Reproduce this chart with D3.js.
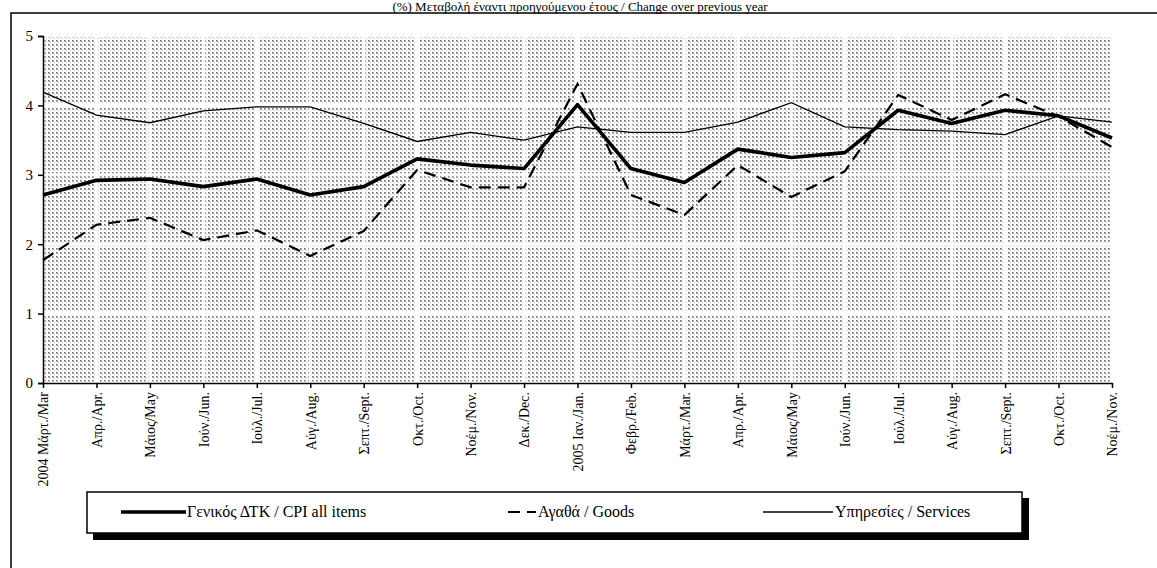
<!DOCTYPE html>
<html><head><meta charset="utf-8">
<script src="https://cdn.jsdelivr.net/npm/d3@7"></script>
<style>html,body{margin:0;padding:0;background:#fff;overflow:hidden}</style>
</head><body>
<svg id="c" width="1157" height="568"></svg>
<script>
const categories = ["2004 Μάρτ./Mar","Απρ./Apr.","Μάιος/May","Ιούν./Jun.","Ιούλ./Jul.","Αύγ./Aug.","Σεπτ./Sept.","Οκτ./Oct.","Νοέμ./Nov.","Δεκ./Dec.","2005 Ιαν./Jan.","Φεβρ./Feb.","Μάρτ./Mar.","Απρ./Apr.","Μάιος/May","Ιούν./Jun.","Ιούλ./Jul.","Αύγ./Aug.","Σεπτ./Sept.","Οκτ./Oct.","Νοέμ./Nov."];
const cpi      = [2.71,2.92,2.94,2.83,2.94,2.71,2.83,3.23,3.14,3.09,4.01,3.09,2.89,3.37,3.25,3.32,3.93,3.74,3.93,3.85,3.53];
const goods    = [1.77,2.28,2.38,2.06,2.20,1.83,2.19,3.07,2.82,2.82,4.31,2.71,2.42,3.14,2.68,3.05,4.15,3.79,4.16,3.84,3.40];
const services = [4.19,3.86,3.75,3.92,3.98,3.98,3.74,3.48,3.61,3.50,3.69,3.61,3.61,3.76,4.04,3.69,3.65,3.63,3.58,3.85,3.76];
const yTicks = [0,1,2,3,4,5];
const title = "(%) Μεταβολή έναντι προηγούμενου έτους / Change over previous year";
const legendLabels = ["Γενικός ΔΤΚ / CPI all items","Αγαθά / Goods","Υπηρεσίες / Services"];

const svg = d3.select("#c");
const font = "Liberation Serif, DejaVu Serif, serif";
const L = 43, R = 1112, T = 36, B = 383;

const defs = svg.append("defs");
const pat = defs.append("pattern").attr("id","dots").attr("width",4).attr("height",4).attr("patternUnits","userSpaceOnUse");
pat.append("rect").attr("width",4).attr("height",4).attr("fill","#fff");
pat.append("rect").attr("x",0).attr("y",0).attr("width",2).attr("height",2).attr("fill","#a8a8a8");
pat.append("rect").attr("x",2).attr("y",2).attr("width",1).attr("height",1).attr("fill","#c8c8c8");
pat.append("rect").attr("x",0).attr("y",0).attr("width",1).attr("height",1).attr("fill","#707070");

svg.append("rect").attr("x",11).attr("y",13).attr("width",1200).attr("height",700)
  .attr("fill","none").attr("stroke","#000").attr("stroke-width",1.5);

svg.append("text").attr("x",580).attr("y",11).attr("text-anchor","middle")
  .attr("font-family",font).attr("font-size",13).text(title);

const x = d3.scalePoint().domain(d3.range(categories.length)).range([L,R]);
const y = d3.scaleLinear().domain([0,5]).range([B,T]);

svg.append("rect").attr("x",L).attr("y",T).attr("width",R-L).attr("height",B-T).attr("fill","url(#dots)");
svg.append("g").selectAll("line").data(yTicks).join("line")
  .attr("x1",L).attr("x2",R).attr("y1",d=>y(d)).attr("y2",d=>y(d))
  .attr("stroke","#fff").attr("stroke-width",3);
svg.append("g").selectAll("line").data(d3.range(categories.length)).join("line")
  .attr("x1",d=>x(d)).attr("x2",d=>x(d)).attr("y1",T).attr("y2",B)
  .attr("stroke","#fff").attr("stroke-width",3);

const yAxis = svg.append("g").attr("transform",`translate(${L},0)`)
  .call(d3.axisLeft(y).tickValues(yTicks).tickFormat(d3.format("d")).tickSize(5).tickPadding(5));
yAxis.attr("font-family",font).attr("font-size",15);
yAxis.select(".domain").attr("stroke","#000").attr("stroke-width",1.5);
yAxis.selectAll(".tick line").attr("stroke","#000").attr("stroke-width",1.5);
yAxis.selectAll("text").attr("fill","#000");

const xAxis = svg.append("g").attr("transform",`translate(0,${B})`)
  .call(d3.axisBottom(x).tickFormat(i=>categories[i]).tickSize(5).tickSizeOuter(0));
xAxis.attr("font-family",font).attr("font-size",14);
xAxis.select(".domain").attr("stroke","#000").attr("stroke-width",1.5);
xAxis.selectAll(".tick line").attr("stroke","#000").attr("stroke-width",1.5);
xAxis.selectAll("text").attr("fill","#000")
  .attr("transform","rotate(-90)").attr("text-anchor","end").attr("x",-9).attr("y",0).attr("dy","0.35em");

const line = d3.line().x((d,i)=>x(i)).y(d=>y(d));
svg.append("path").datum(services).attr("d",line).attr("fill","none").attr("stroke","#000").attr("stroke-width",1.3);
svg.append("path").datum(goods).attr("d",line).attr("fill","none").attr("stroke","#000").attr("stroke-width",2.2).attr("stroke-dasharray","12,7");
svg.append("path").datum(cpi).attr("d",line).attr("fill","none").attr("stroke","#000").attr("stroke-width",3.6).attr("stroke-linejoin","round");

const lg = svg.append("g").attr("font-family",font).attr("font-size",16);
lg.append("rect").attr("x",93).attr("y",498).attr("width",936).attr("height",42).attr("fill","#000");
lg.append("rect").attr("x",87).attr("y",492).attr("width",935).attr("height",41).attr("fill","#fff").attr("stroke","#000").attr("stroke-width",1.5);
const items = [
  {x1:121,x2:186,w:3.6,dash:null,tx:187},
  {x1:508,x2:536,w:2.2,dash:"12,7",tx:538},
  {x1:763,x2:833,w:1.3,dash:null,tx:835}
];
items.forEach((it,i)=>{
  const ln = lg.append("line").attr("x1",it.x1).attr("x2",it.x2).attr("y1",512).attr("y2",512)
    .attr("stroke","#000").attr("stroke-width",it.w);
  if(it.dash) ln.attr("stroke-dasharray",it.dash);
  lg.append("text").attr("x",it.tx).attr("y",517).text(legendLabels[i]);
});
</script>
</body></html>
